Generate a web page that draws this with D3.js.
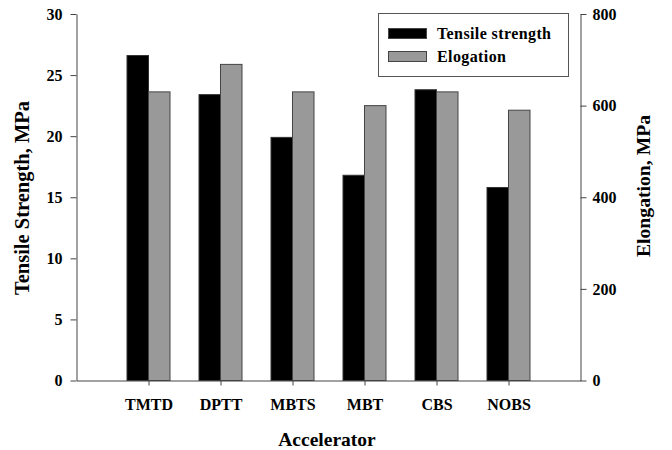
<!DOCTYPE html>
<html><head><meta charset="utf-8">
<script src="https://cdn.jsdelivr.net/npm/d3@7"></script>
<style>body{margin:0;background:#fff}svg text{font-family:"Liberation Serif","Times New Roman",serif;font-weight:bold}</style>
</head><body><svg id="c" width="672" height="450"></svg>
<script>
const categories = ["TMTD","DPTT","MBTS","MBT","CBS","NOBS"];
const tensile = [26.6, 23.4, 19.9, 16.8, 23.8, 15.8];
const elongation = [630, 690, 630, 600, 630, 590];
const leftTicks = [0,5,10,15,20,25,30];
const rightTicks = [0,200,400,600,800];
const seriesNames = ["Tensile strength","Elogation"];

const svg = d3.select("#c");
const L = 76.5, R = 580.5, T = 14, B = 380.5;
const x = d3.scalePoint().domain(categories).range([L, R]).padding(1);
const yL = d3.scaleLinear().domain([0,30]).range([B, T]);
const yR = d3.scaleLinear().domain([0,800]).range([B, T]);
const bw = 21.5;
const axisColor = "#444";

// bars
svg.append("g").selectAll("rect").data(categories).join("rect")
  .attr("x", d => x(d) - bw).attr("width", bw)
  .attr("y", (d,i) => yL(tensile[i])).attr("height", (d,i) => B - yL(tensile[i]))
  .attr("fill", "#000").attr("stroke", "#333").attr("stroke-width", 1);
svg.append("g").selectAll("rect").data(categories).join("rect")
  .attr("x", d => x(d)).attr("width", bw)
  .attr("y", (d,i) => yR(elongation[i])).attr("height", (d,i) => B - yR(elongation[i]))
  .attr("fill", "#999").attr("stroke", "#444").attr("stroke-width", 1);

function style(g){
  g.selectAll("path,line").attr("stroke", axisColor);
  g.selectAll("text").attr("font-size", 16).attr("fill", "#000")
   .attr("font-family", '"Liberation Serif",serif').attr("font-weight","bold");
}
svg.append("g").attr("transform", `translate(${L},0)`)
  .call(d3.axisLeft(yL).tickValues(leftTicks).tickSize(6).tickSizeOuter(0).tickPadding(8))
  .call(style);
svg.append("g").attr("transform", `translate(${R},0)`)
  .call(d3.axisRight(yR).tickValues(rightTicks).tickSize(6).tickSizeOuter(0).tickPadding(6))
  .call(style);
svg.append("g").attr("transform", `translate(0,${B})`)
  .call(d3.axisBottom(x).tickSize(5).tickSizeOuter(0).tickPadding(13))
  .call(style);

// axis titles
svg.append("text").attr("x", 327).attr("y", 446).attr("text-anchor","middle")
  .attr("font-size", 19.5).text("Accelerator");
svg.append("text").attr("transform","translate(29,198) rotate(-90)").attr("text-anchor","middle")
  .attr("font-size", 20.5).text("Tensile Strength, MPa");
svg.append("text").attr("transform","translate(650,186) rotate(-90)").attr("text-anchor","middle")
  .attr("font-size", 19.7).text("Elongation, MPa");

// legend
const lg = svg.append("g");
lg.append("rect").attr("x", 378.5).attr("y", 13.5).attr("width", 190).attr("height", 63)
  .attr("fill", "#fff").attr("stroke", "#555");
const fills = ["#000", "#999"];
seriesNames.forEach((n,i) => {
  lg.append("rect").attr("x", 388.5).attr("y", 28.5 + i*23).attr("width", 38).attr("height", 10)
    .attr("fill", fills[i]).attr("stroke", "#444");
  lg.append("text").attr("x", 437).attr("y", 39 + i*23).attr("font-size", 16)
    .attr("letter-spacing", 0.4).text(n);
});
</script></body></html>
